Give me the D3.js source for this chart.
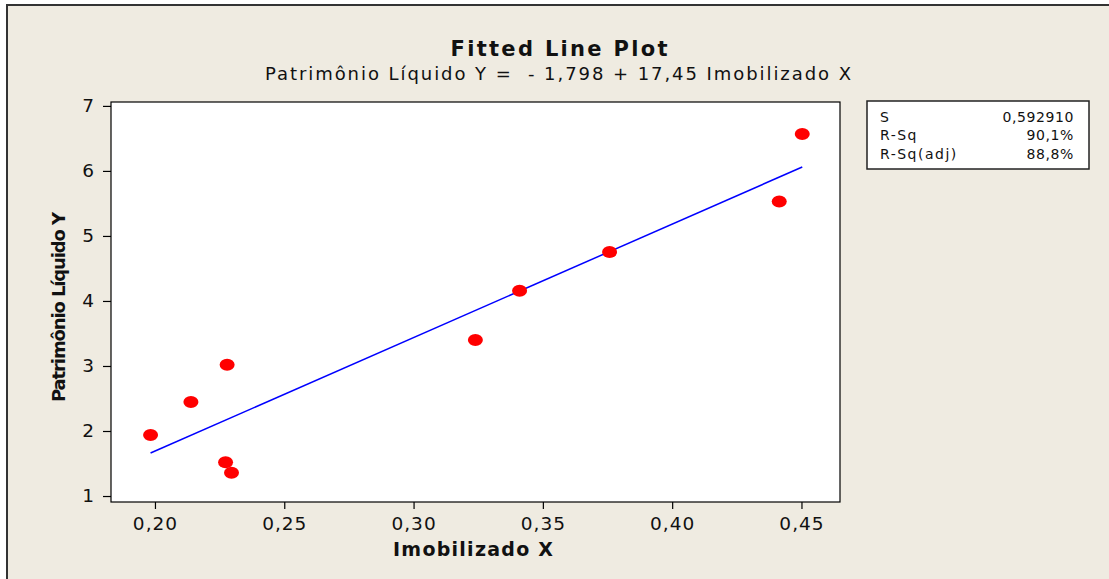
<!DOCTYPE html>
<html>
<head>
<meta charset="utf-8">
<script src="https://cdn.jsdelivr.net/npm/d3@7"></script>
<style>
  html, body { margin: 0; padding: 0; background: #ffffff; }
  svg { display: block; }
  text { font-family: "DejaVu Sans", Verdana, sans-serif; }
</style>
</head>
<body>
<svg id="chart" width="1109" height="579"></svg>
<script>
// ---- data ----
const imobilizadoX = [0.1983, 0.2139, 0.2279, 0.2273, 0.2296, 0.3239, 0.3410, 0.3758, 0.4414, 0.4503];
const patrimonioY  = [1.938, 2.446, 3.020, 1.518, 1.358, 3.400, 4.158, 4.754, 5.528, 6.569];
const intercept = -1.798;
const slope = 17.45;
const xTicks = [0.20, 0.25, 0.30, 0.35, 0.40, 0.45];
const yTicks = [1, 2, 3, 4, 5, 6, 7];
const statLabels = ["S", "R-Sq", "R-Sq(adj)"];
const statValues = ["0,592910", "90,1%", "88,8%"];
const titleText = "Fitted Line Plot";
const subtitleText = "Patrimônio Líquido Y =  - 1,798 + 17,45 Imobilizado X";
const xLabel = "Imobilizado X";
const yLabel = "Patrimônio Líquido Y";

const svg = d3.select("#chart");

// figure background with frame (only top/left edges visible as in reference)
svg.append("rect")
  .attr("x", 7).attr("y", 5).attr("width", 1200).attr("height", 700)
  .attr("fill", "#efebe1").attr("stroke", "#333").attr("stroke-width", 2);

const plot = { left: 111, right: 840, top: 102, bottom: 502 };

const x = d3.scaleLinear().domain([0.1830, 0.4649]).range([plot.left, plot.right]);
const y = d3.scaleLinear().domain([0.908, 7.06]).range([plot.bottom, plot.top]);

// plot area
svg.append("rect")
  .attr("x", plot.left).attr("y", plot.top)
  .attr("width", plot.right - plot.left).attr("height", plot.bottom - plot.top)
  .attr("fill", "#ffffff").attr("stroke", "#000").attr("stroke-width", 1.2);

// axes
const fmtX = d => d3.format(".2f")(d).replace(".", ",");
const xAxis = svg.append("g")
  .attr("transform", `translate(0,${plot.bottom})`)
  .call(d3.axisBottom(x).tickValues(xTicks).tickFormat(fmtX).tickSize(7).tickPadding(8));
const yAxis = svg.append("g")
  .attr("transform", `translate(${plot.left},0)`)
  .call(d3.axisLeft(y).tickValues(yTicks).tickFormat(d3.format("d")).tickSize(8).tickPadding(8));

[xAxis, yAxis].forEach(g => {
  g.select(".domain").remove();
  g.selectAll(".tick line").attr("stroke", "#000").attr("stroke-width", 1.2);
  g.selectAll(".tick text")
    .attr("fill", "#111")
    .style("font-family", '"DejaVu Sans", Verdana, sans-serif')
    .style("font-size", "18.5px")
    .style("letter-spacing", "1px");
});

// fitted line
const xMin = d3.min(imobilizadoX), xMax = d3.max(imobilizadoX);
const fitted = [xMin, xMax].map(v => [v, intercept + slope * v]);
svg.append("path")
  .datum(fitted)
  .attr("fill", "none")
  .attr("stroke", "#0000ff")
  .attr("stroke-width", 1.5)
  .attr("d", d3.line().x(d => x(d[0])).y(d => y(d[1])));

// points
svg.append("g").selectAll("ellipse")
  .data(imobilizadoX.map((v, i) => [v, patrimonioY[i]]))
  .join("ellipse")
  .attr("cx", d => x(d[0]))
  .attr("cy", d => y(d[1]))
  .attr("rx", 7.5).attr("ry", 6)
  .attr("fill", "#ff0000");

// title & subtitle
svg.append("text")
  .attr("x", 559).attr("y", 56)
  .attr("text-anchor", "middle")
  .attr("font-weight", "bold").attr("font-size", 21)
  .attr("textLength", 217).attr("lengthAdjust", "spacing")
  .attr("fill", "#111")
  .text(titleText);
svg.append("text")
  .attr("x", 558).attr("y", 80)
  .attr("text-anchor", "middle")
  .attr("font-size", 18)
  .style("white-space", "pre")
  .attr("xml:space", "preserve")
  .attr("textLength", 586).attr("lengthAdjust", "spacing")
  .attr("fill", "#111")
  .text(subtitleText);

// axis labels
svg.append("text")
  .attr("x", 473).attr("y", 556)
  .attr("text-anchor", "middle")
  .attr("font-weight", "bold").attr("font-size", 19)
  .attr("textLength", 160).attr("lengthAdjust", "spacing")
  .attr("fill", "#111")
  .text(xLabel);
svg.append("text")
  .attr("transform", "translate(65,307) rotate(-90)")
  .attr("text-anchor", "middle")
  .attr("font-weight", "bold").attr("font-size", 18)
  .attr("textLength", 190).attr("lengthAdjust", "spacing")
  .attr("fill", "#111")
  .text(yLabel);

// stats box
const box = svg.append("g");
box.append("rect")
  .attr("x", 867).attr("y", 101).attr("width", 222).attr("height", 68)
  .attr("fill", "#ffffff").attr("stroke", "#222").attr("stroke-width", 1.5);
statLabels.forEach((lab, i) => {
  box.append("text")
    .attr("x", 880).attr("y", 121.5 + i * 18.8)
    .attr("font-size", 14).style("letter-spacing", "1.5px")
    .attr("fill", "#111")
    .text(lab);
  box.append("text")
    .attr("x", 1074).attr("y", 121.5 + i * 18.8)
    .attr("text-anchor", "end")
    .attr("font-size", 14).style("letter-spacing", "0.6px")
    .attr("fill", "#111")
    .text(statValues[i]);
});
</script>
</body>
</html>
